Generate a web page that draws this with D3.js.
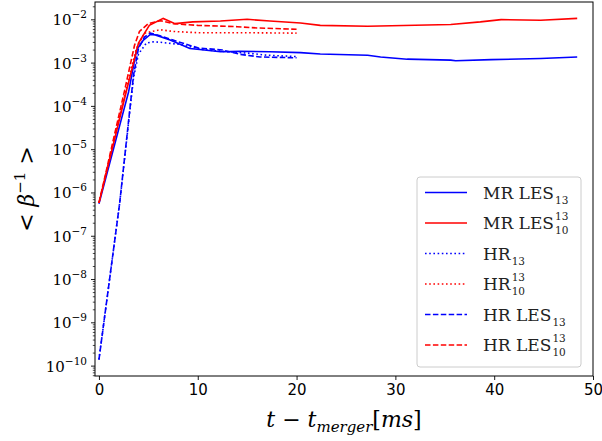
<!DOCTYPE html>
<html>
<head>
<meta charset="utf-8">
<script src="https://cdn.jsdelivr.net/npm/d3@7"></script>
<style>
  body { margin: 0; background: #fff; }
  svg { display: block; }
</style>
</head>
<body>
<svg id="chart"></svg>
<script>
// chart data

const tMRLES13   = [0, 3.0, 3.8, 4.5, 5.2, 5.7, 7.2, 9.2, 10.2, 12.3, 14.3, 17.3, 20.4, 22.4, 27.2, 28.5, 31.2, 35.6, 36.1, 39.7, 44.7, 48.4];
const vMRLES13   = [5.5e-7, 2.1e-4, 1.95e-3, 3.31e-3, 4.47e-3, 4.37e-3, 3.31e-3, 2.11e-3, 2.0e-3, 1.78e-3, 1.82e-3, 1.78e-3, 1.70e-3, 1.58e-3, 1.48e-3, 1.35e-3, 1.20e-3, 1.14e-3, 1.10e-3, 1.17e-3, 1.24e-3, 1.35e-3];

const tMRLES1310 = [0, 2.8, 4.0, 5.1, 6.5, 7.7, 9.5, 12.3, 15.0, 17.3, 20.4, 22.4, 27.2, 35.6, 38.6, 40.7, 44.7, 48.4];
const vMRLES1310 = [5.75e-7, 2.29e-4, 2.82e-3, 7.24e-3, 1.05e-2, 7.94e-3, 8.71e-3, 9.12e-3, 1.0e-2, 9.12e-3, 8.22e-3, 7.24e-3, 6.92e-3, 7.59e-3, 8.71e-3, 9.84e-3, 9.55e-3, 1.05e-2];

const tHR13      = [0, 2.1, 3.5, 4.0, 4.8, 5.5, 6.2, 8.2, 10.5, 13, 15, 17, 20];
const vHR13      = [1.38e-10, 5.75e-7, 4.47e-4, 1.58e-3, 2.82e-3, 3.02e-3, 2.95e-3, 2.63e-3, 2.0e-3, 1.78e-3, 1.66e-3, 1.48e-3, 1.38e-3];

const tHR1310    = [0, 2.7, 3.8, 4.6, 6.2, 7.5, 10, 15, 20];
const vHR1310    = [5.75e-7, 2.29e-4, 2.14e-3, 4.79e-3, 5.75e-3, 5.25e-3, 4.90e-3, 4.90e-3, 4.79e-3];

const tHRLES13   = [0, 2.1, 3.5, 4.0, 4.6, 5.2, 6, 7.5, 10, 12.5, 14.3, 16.3, 20];
const vHRLES13   = [1.38e-10, 5.75e-7, 5.13e-4, 2.14e-3, 3.89e-3, 4.79e-3, 4.27e-3, 3.31e-3, 2.19e-3, 1.95e-3, 1.55e-3, 1.35e-3, 1.29e-3];

const tHRLES1310 = [0, 2.6, 3.6, 4.1, 5.0, 6.2, 7.5, 10, 14, 16, 20];
const vHRLES1310 = [5.75e-7, 2.29e-4, 2.51e-3, 5.25e-3, 7.94e-3, 9.3e-3, 7.94e-3, 7.24e-3, 6.76e-3, 6.31e-3, 5.89e-3];

const xTicks = [0, 10, 20, 30, 40, 50];
const yExponents = [-10, -9, -8, -7, -6, -5, -4, -3, -2];

// legend: base text, sup, sub
const seriesNames = [
  ['MR LES', '', '13'],
  ['MR LES', '13', '10'],
  ['HR', '', '13'],
  ['HR', '13', '10'],
  ['HR LES', '', '13'],
  ['HR LES', '13', '10']
];

const W = 602, H = 441;
const margin = {left: 95, right: 9, top: 2, bottom: 65};
const pw = W - margin.left - margin.right;
const ph = H - margin.top - margin.bottom;

const serif = "'DejaVu Serif', 'Liberation Serif', serif";

const svg = d3.select('#chart').attr('width', W).attr('height', H);
const g = svg.append('g').attr('transform', `translate(${margin.left},${margin.top})`);

const x = d3.scaleLinear().domain([-0.4, 50]).range([0, pw]);
const y = d3.scaleLog().domain([Math.pow(10, -10.24), Math.pow(10, -1.6)]).range([ph, 0]);

// series lines
const series = [
  {t: tMRLES13, v: vMRLES13, color: '#0000ff', dash: null},
  {t: tMRLES1310, v: vMRLES1310, color: '#ff0000', dash: null},
  {t: tHR13, v: vHR13, color: '#0000ff', dash: '1.6,2.6'},
  {t: tHR1310, v: vHR1310, color: '#ff0000', dash: '1.6,2.6'},
  {t: tHRLES13, v: vHRLES13, color: '#0000ff', dash: '5.5,2.4'},
  {t: tHRLES1310, v: vHRLES1310, color: '#ff0000', dash: '5.5,2.4'}
];

const line = d3.line().x(d => x(d[0])).y(d => y(d[1]));

g.append('defs').append('clipPath').attr('id', 'clip')
  .append('rect').attr('width', pw).attr('height', ph);

const plot = g.append('g').attr('clip-path', 'url(#clip)');
series.forEach(function(s) {
  let pts = s.t.map((t, i) => [t, s.v[i]]);
  plot.append('path')
    .attr('d', line(pts))
    .attr('fill', 'none')
    .attr('stroke', s.color)
    .attr('stroke-width', 1.6)
    .attr('stroke-dasharray', s.dash);
});

// x axis
const xAxis = g.append('g').attr('transform', `translate(0,${ph})`)
  .call(d3.axisBottom(x).tickValues(xTicks).tickSize(4).tickPadding(4).tickFormat(d3.format('d')));
xAxis.select('.domain').remove();
xAxis.selectAll('text').attr('font-family', "'DejaVu Sans', sans-serif").attr('font-size', 15).attr('fill', '#000');
xAxis.selectAll('line').attr('stroke', '#000').attr('stroke-width', 0.9);

// y axis minor ticks
let minor = [];
for (let e = -11; e <= -2; e++) {
  for (let m = 2; m <= 9; m++) {
    let v = m * Math.pow(10, e);
    if (v >= y.domain()[0] && v <= y.domain()[1]) minor.push(v);
  }
}
const yMinor = g.append('g').call(d3.axisLeft(y).tickValues(minor).tickSize(2.2).tickFormat(''));
yMinor.select('.domain').remove();
yMinor.selectAll('line').attr('stroke', '#000').attr('stroke-width', 0.7);

// y axis major ticks
const yAxis = g.append('g')
  .call(d3.axisLeft(y).tickValues(yExponents.map(e => Math.pow(10, e))).tickSize(4).tickFormat(''));
yAxis.select('.domain').remove();
yAxis.selectAll('line').attr('stroke', '#000').attr('stroke-width', 0.9);

yExponents.forEach(function(e) {
  let txt = g.append('text')
    .attr('x', -8)
    .attr('y', y(Math.pow(10, e)) + 6)
    .attr('text-anchor', 'end')
    .attr('font-family', serif)
    .attr('font-size', 15)
    .attr('fill', '#000');
  txt.append('tspan').text('10');
  txt.append('tspan').attr('dy', -7).attr('font-size', 10.5).text('\u2212' + Math.abs(e));
});

// frame
g.append('rect').attr('width', pw).attr('height', ph)
  .attr('fill', 'none').attr('stroke', '#000').attr('stroke-width', 1);

// axis labels
const xl = svg.append('text')
  .attr('x', margin.left + pw / 2)
  .attr('y', 427)
  .attr('text-anchor', 'middle')
  .attr('font-family', serif)
  .attr('font-size', 22)
  .attr('fill', '#000');
xl.append('tspan').attr('font-style', 'italic').text('t');
xl.append('tspan').text(' \u2212 ');
xl.append('tspan').attr('font-style', 'italic').text('t');
xl.append('tspan').attr('font-style', 'italic').attr('font-size', 15).attr('dy', 5).text('merger');
xl.append('tspan').attr('dy', -5).text('[');
xl.append('tspan').attr('font-style', 'italic').text('ms');
xl.append('tspan').text(']');

const yl = svg.append('text')
  .attr('transform', `translate(34,${margin.top + ph / 2}) rotate(-90)`)
  .attr('text-anchor', 'middle')
  .attr('font-family', serif)
  .attr('font-size', 22)
  .attr('fill', '#000');
yl.append('tspan').text('< ');
yl.append('tspan').attr('font-style', 'italic').text('\u03b2');
yl.append('tspan').attr('dy', -9).attr('font-size', 15).text('\u22121');
yl.append('tspan').attr('dy', 9).text(' >');

// legend
const lg = svg.append('g').attr('transform', 'translate(417,177)');
lg.append('rect')
  .attr('width', 164).attr('height', 190).attr('rx', 3)
  .attr('fill', '#fff').attr('fill-opacity', 0.8)
  .attr('stroke', '#cccccc').attr('stroke-width', 1);

seriesNames.forEach(function(nm, i) {
  let cy = 15.5 + i * 30.5;
  let s = series[i];
  lg.append('line')
    .attr('x1', 8).attr('x2', 50).attr('y1', cy).attr('y2', cy)
    .attr('stroke', s.color).attr('stroke-width', 1.6)
    .attr('stroke-dasharray', s.dash);
  let base = lg.append('text')
    .attr('x', 66).attr('y', cy + 6)
    .attr('font-family', serif).attr('font-size', 17).attr('fill', '#222')
    .text(nm[0]);
  let wd = base.node().getComputedTextLength();
  if (nm[1]) {
    lg.append('text')
      .attr('x', 66 + wd + 1).attr('y', cy - 3)
      .attr('font-family', serif).attr('font-size', 10.5).attr('fill', '#222')
      .text(nm[1]);
  }
  lg.append('text')
    .attr('x', 66 + wd + 1).attr('y', cy + 11)
    .attr('font-family', serif).attr('font-size', 10.5).attr('fill', '#222')
    .text(nm[2]);
});
</script>
</body>
</html>
